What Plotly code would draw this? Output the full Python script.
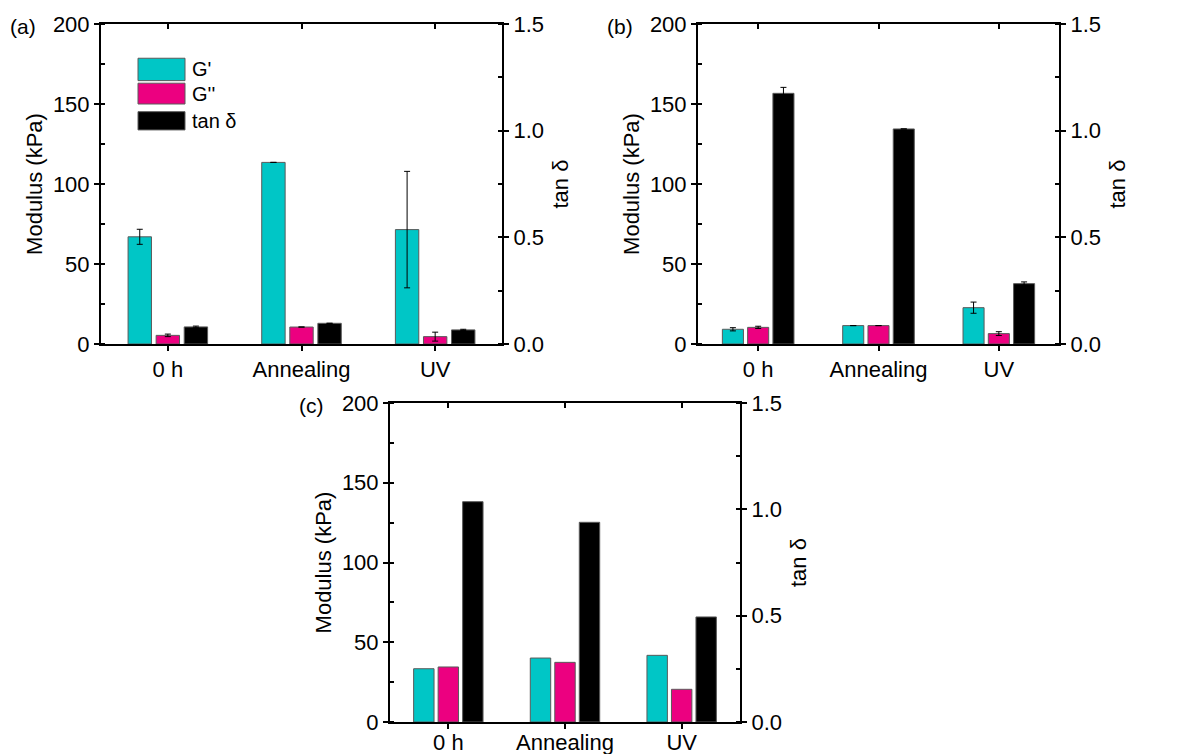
import plotly.graph_objects as go

# Page is 1178x754; the browser adds an 8 px body margin around the figure.
PAGE_OFF = 8
W, H = 1178 - PAGE_OFF, 754 - PAGE_OFF

categories = ["0 h", "Annealing", "UV"]
panel_labels = ["(a)", "(b)", "(c)"]
series_names = ["G'", "G''", "tan δ"]

# Panel (a)
a_gp = [67.0, 113.5, 71.5]
a_gp_err = [4.7, None, 36.4]
a_gpp = [5.4, 10.6, 4.6]
a_gpp_err = [0.8, None, 2.8]
a_tan = [0.080, 0.097, 0.066]
a_tan_err = [0.004, None, 0.003]

# Panel (b)
b_gp = [9.2, 11.5, 22.7]
b_gp_err = [1.0, None, 3.5]
b_gpp = [10.4, 11.5, 6.5]
b_gpp_err = [0.7, None, 1.2]
b_tan = [1.175, 1.008, 0.283]
b_tan_err = [0.028, None, 0.008]

# Panel (c)
c_gp = [33.4, 40.1, 41.8]
c_gpp = [34.5, 37.4, 20.5]
c_tan = [1.036, 0.939, 0.494]

mod_ticks = [0, 50, 100, 150, 200]
tan_ticks = [0.0, 0.5, 1.0, 1.5]
tan_ticktext = ["0.0", "0.5", "1.0", "1.5"]

panels = [
    dict(gp=a_gp, gp_err=a_gp_err, gpp=a_gpp, gpp_err=a_gpp_err, tan=a_tan, tan_err=a_tan_err,
         px=(101, 502), py=(24, 344), lbl_standoff=0),
    dict(gp=b_gp, gp_err=b_gp_err, gpp=b_gpp, gpp_err=b_gpp_err, tan=b_tan, tan_err=b_tan_err,
         px=(698, 1059), py=(24, 344), lbl_standoff=0),
    dict(gp=c_gp, gp_err=None, gpp=c_gpp, gpp_err=None, tan=c_tan, tan_err=None,
         px=(390, 740), py=(403, 722), lbl_standoff=-5),
]

CYAN = "#00C6C6"
MAGENTA = "#EC0080"
BLACK = "#000000"
FONT = "Liberation Sans, Arial, sans-serif"

bar_w = 0.175
offsets = [-0.2975, -0.0875, 0.1225]


def fx(px):
    return (px - PAGE_OFF) / W


def fy(py):
    return 1 - (py - PAGE_OFF) / H


fig = go.Figure()
layout = {}


def ax_name(kind, n):
    return f"{kind}axis" if n == 1 else f"{kind}axis{n}"


def ref(kind, n):
    return kind if n == 1 else f"{kind}{n}"


def err(vals):
    if vals is None:
        return None
    return dict(type="data", array=vals, visible=True, color="black", thickness=1, width=3)


for i, p in enumerate(panels):
    xm, xt = 2 * i + 1, 2 * i + 2
    yl, yr = 2 * i + 1, 2 * i + 2
    xd = [fx(p["px"][0]), fx(p["px"][1])]
    yd = [fy(p["py"][1]), fy(p["py"][0])]

    specs = [
        (p["gp"], p["gp_err"], CYAN, xm, yl, 0),
        (p["gpp"], p["gpp_err"], MAGENTA, xm, yl, 1),
        (p["tan"], p["tan_err"], BLACK, xt, yr, 2),
    ]
    for vals, e, col, xax, yax, k in specs:
        fig.add_trace(go.Bar(
            x=categories, y=vals, name=series_names[k],
            xaxis=ref("x", xax), yaxis=ref("y", yax),
            width=bar_w, offset=offsets[k],
            marker=dict(color=col, line=dict(color="#5a5a5a", width=1)),
            error_y=err(e), showlegend=False,
        ))

    common_line = dict(showline=True, linecolor="black", linewidth=2, zeroline=False,
                       showgrid=False, tickcolor="black", tickwidth=2, automargin=False,
                       tickfont=dict(family=FONT, size=22, color="black"))

    layout[ax_name("x", xm)] = dict(
        domain=xd, anchor=ref("y", yl), type="category",
        categoryorder="array", categoryarray=categories, range=[-0.5, 2.5],
        ticks="outside", ticklen=5, ticklabelstandoff=p["lbl_standoff"], **common_line,
    )
    layout[ax_name("x", xt)] = dict(
        overlaying=ref("x", xm), anchor=ref("y", yl), side="top", type="category",
        categoryorder="array", categoryarray=categories, range=[-0.5, 2.5],
        showticklabels=False, ticks="inside", ticklen=5, **common_line,
    )
    layout[ax_name("y", yl)] = dict(
        domain=yd, anchor=ref("x", xm), range=[0, 200],
        tickvals=mod_ticks, ticks="outside", ticklen=5,
        minor=dict(dtick=25, ticks="inside", ticklen=4, tickcolor="black", tickwidth=1.5),
        title=dict(text="Modulus (kPa)", font=dict(family=FONT, size=22, color="black"), standoff=4),
        **common_line,
    )
    layout[ax_name("y", yr)] = dict(
        overlaying=ref("y", yl), anchor=ref("x", xm), side="right", range=[0, 1.5],
        tickvals=tan_ticks, ticktext=tan_ticktext, ticks="outside", ticklen=5,
        minor=dict(dtick=0.25, ticks="inside", ticklen=4, tickcolor="black", tickwidth=1.5),
        title=dict(text="tan δ", font=dict(family=FONT, size=22, color="black"), standoff=10),
        **common_line,
    )

annotations = []
for i, p in enumerate(panels):
    annotations.append(dict(
        text=panel_labels[i], xref="paper", yref="paper",
        x=fx(p["px"][0] - 93), y=fy(p["py"][0] + 2),
        xanchor="left", yanchor="middle", showarrow=False,
        font=dict(family=FONT, size=21, color="black"),
    ))

# Legend drawn inside panel (a)
legend_colors = [CYAN, MAGENTA, BLACK]
legend_rows = [(0.823, 0.893), (0.750, 0.815), (0.669, 0.726)]
shapes = []
for (y0, y1), col, name in zip(legend_rows, legend_colors, series_names):
    shapes.append(dict(type="rect", xref="x domain", yref="y domain",
                       x0=0.0923, x1=0.2095, y0=y0, y1=y1,
                       fillcolor=col, line=dict(color="#5a5a5a", width=1)))
    annotations.append(dict(text=name, xref="x domain", yref="y domain",
                            x=0.222, y=(y0 + y1) / 2, xanchor="left", yanchor="middle",
                            showarrow=False, font=dict(family=FONT, size=20, color="black")))

fig.update_layout(
    width=W, height=H, margin=dict(l=0, r=0, t=0, b=0, pad=0),
    paper_bgcolor="white", plot_bgcolor="white",
    barmode="overlay", showlegend=False,
    annotations=annotations, shapes=shapes,
    font=dict(family=FONT, color="black"),
    **layout,
)

fig.write_html("out.html")
